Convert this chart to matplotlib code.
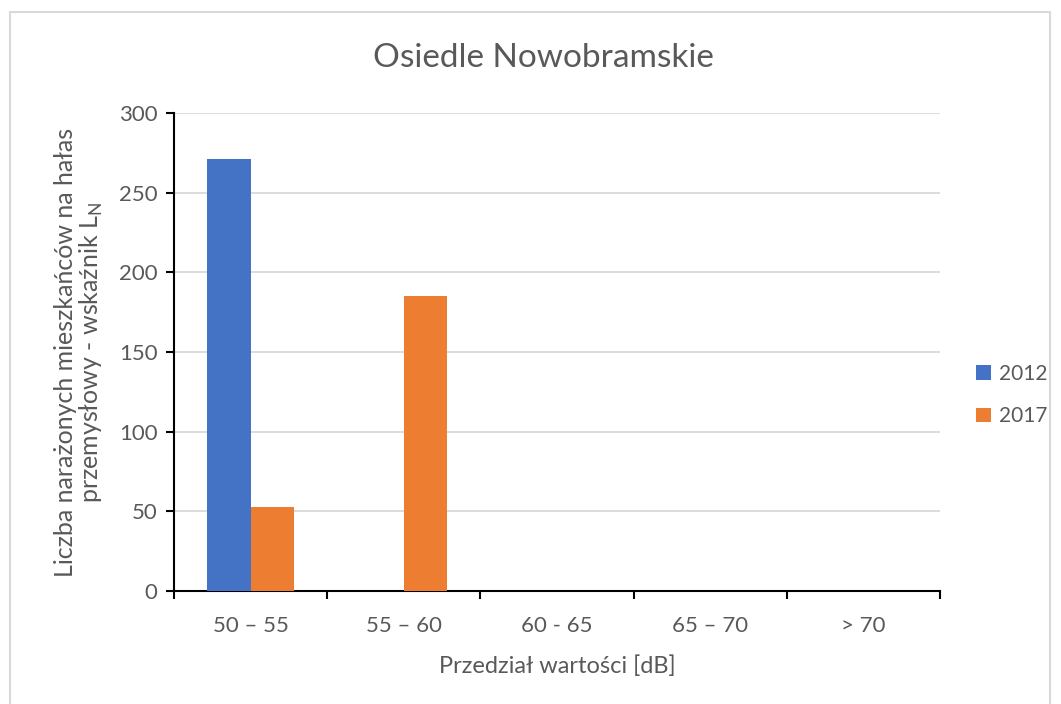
import matplotlib.pyplot as plt
import matplotlib.patches as mpatches
import numpy as np

categories = ['50 – 55', '55 – 60', '60 - 65', '65 – 70', '> 70']
series_names = ['2012', '2017']
values_2012 = [271, 0, 0, 0, 0]
values_2017 = [53, 185, 0, 0, 0]
colors = ['#4472C4', '#ED7D31']

plt.rcParams['font.family'] = ['Lato', 'DejaVu Sans']
text_color = '#595959'

fig = plt.figure(figsize=(10.61, 7.04), dpi=100)
ax = fig.add_axes([174 / 1061, 1 - 591 / 704, (940 - 174) / 1061, (591 - 113) / 704])

# light frame round the whole chart
fig.patches.append(mpatches.Rectangle((10 / 1061, -0.01), 1040 / 1061, 1 - 12 / 704 + 0.01,
                                      transform=fig.transFigure, fill=False,
                                      edgecolor='#D9D9D9', linewidth=1.5))

x = np.arange(len(categories))
w = 0.285
ax.bar(x - w / 2, values_2012, width=w, color=colors[0], label=series_names[0], zorder=3)
ax.bar(x + w / 2, values_2017, width=w, color=colors[1], label=series_names[1], zorder=3)

ax.set_xlim(-0.5, len(categories) - 0.5)
ax.set_ylim(0, 300)
ax.set_yticks(range(0, 301, 50))
ax.yaxis.grid(True, color='#D9D9D9', linewidth=1.3, zorder=0)

ax.set_xticks(x)
ax.set_xticklabels(categories)
ax.tick_params(axis='x', length=0, pad=18, labelsize=16, labelcolor=text_color)
ax.set_xticks(np.arange(-0.5, len(categories)), minor=True)
ax.tick_params(axis='x', which='minor', length=6, width=1.5, color='black', direction='out')
ax.tick_params(axis='y', length=6, width=1.5, color='black', direction='out',
               labelsize=16, labelcolor=text_color, pad=6)

for s in ['top', 'right']:
    ax.spines[s].set_visible(False)
for s in ['left', 'bottom']:
    ax.spines[s].set_linewidth(1.5)
    ax.spines[s].set_color('black')

# title is centred on the whole chart, not on the plot area
fig.text(543 / 1061, 1 - 58 / 704, 'Osiedle Nowobramskie', fontsize=24, color=text_color,
         ha='center', va='center')
ax.set_xlabel('Przedział wartości [dB]', fontsize=17, color=text_color, labelpad=14)
ax.set_ylabel('Liczba narażonych mieszkańców na hałas\nprzemysłowy - wskaźnik L$_\\mathregular{N}$',
              fontsize=18, color=text_color, labelpad=10, linespacing=1.05)

leg = ax.legend(loc='center left', bbox_to_anchor=(1.028, 0.41), frameon=False,
                fontsize=15, labelcolor=text_color, handlelength=0.7, handleheight=0.7,
                handletextpad=0.4, labelspacing=1.1, borderpad=0.2)

fig.savefig('out.png', dpi=100)
